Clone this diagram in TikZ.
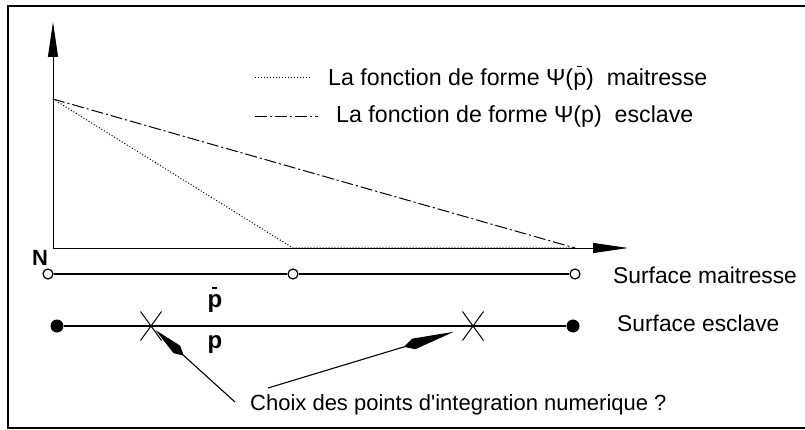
\documentclass[tikz,border=0pt]{standalone}
\usepackage{fontspec}
\setmainfont{Liberation Sans}
\usepackage{tikz}
\usetikzlibrary{arrows.meta,positioning,shapes.misc,calc}

\newcommand{\pbar}{\hbox{\rlap{\kern0.17em\raisebox{0.78em}{\rule{0.22em}{0.07em}}}p}}

\begin{document}
\begin{tikzpicture}[
    x=1pt, y=-1pt,
    label/.style={font=\fontsize{22}{26}\selectfont, inner sep=0pt},
    legend/.style={font=\fontsize{23.2}{28}\selectfont, inner sep=0pt, anchor=west},
    surf/.style={font=\fontsize{22.8}{27}\selectfont, inner sep=0pt, anchor=west},
    axis/.style={line width=0.9pt, -{Triangle[length=35pt,width=10pt]}},
    master/.style={dotted, line width=1pt},
    slave/.style={line width=1pt, dash pattern=on 12pt off 3pt on 2pt off 3pt},
    opennode/.style={circle, draw, fill=white, line width=1.2pt, minimum size=10pt, inner sep=0pt},
    fullnode/.style={circle, fill, minimum size=13pt, inner sep=0pt},
    gauss/.style={cross out, draw, line width=1pt, minimum width=20pt, minimum height=28pt, inner sep=0pt},
    pointer/.style={line width=1.1pt, -{Kite[length=38pt,width=10pt,inset=9pt]}}
]
    \useasboundingbox (0,0) rectangle (805,430);
    \draw[line width=1.2pt] (805,6) -- (8,6) -- (8,428) -- (283,428);
    \draw[line width=1.2pt] (283,428) -- (805,428);

    % axes
    \coordinate (O) at (53,248);
    \coordinate (ytip) at (53,22);
    \coordinate (xtip) at (628,248);
    \draw[axis] (O) -- (ytip);
    \draw[axis] (O) -- (xtip);
    \node[label, font=\fontsize{22}{26}\selectfont\bfseries] (N) at (40,258) {N};

    % shape functions
    \coordinate (top) at (53,99);
    \coordinate (knee) at (293,248);
    \coordinate (far) at (575,248);
    \draw[master] (top) -- (knee) -- (far);
    \draw[slave] (top) -- (far);

    % legend
    \coordinate (l1a) at (255,78);
    \coordinate (l1b) at (310,78);
    \coordinate (l2a) at (255,117);
    \coordinate (l2b) at (318,117);
    \draw[master] (l1a) -- (l1b);
    \draw[slave] (l2a) -- (l2b);
    \node[legend] (leg1) at (328,78) {La fonction de forme Ψ(\pbar)\ \ maitresse};
    \node[legend] (leg2) at (336,117) {La fonction de forme Ψ(p)\ \ esclave};

    % master surface
    \node[opennode] (m1) at (48,274) {};
    \node[opennode] (m2) at (293,274) {};
    \node[opennode] (m3) at (575,274) {};
    \draw[line width=1.8pt] (m1) -- (m2) -- (m3);
    \node[surf] (msurf) at (613,275) {Surface maitresse};
    \node[label, font=\fontsize{24}{28}\selectfont\bfseries] (pm) at (215,300) {\pbar};

    % slave surface
    \node[fullnode] (s1) at (57,326) {};
    \node[fullnode] (s2) at (573,326) {};
    \node[gauss] (g1) at (151,326) {};
    \node[gauss] (g2) at (473,326) {};
    \draw[line width=1.4pt] (s1) -- (g1.center) -- (g2.center) -- (s2);
    \node[surf] (ssurf) at (617,323) {Surface esclave};
    \node[label, font=\fontsize{24}{28}\selectfont\bfseries] (ps) at (215,345) {p};

    % integration points
    \node[label, anchor=west] (choix) at (250,405) {Choix des points d\textquotesingle integration numerique ?};
    \coordinate (c1) at (235,402);
    \coordinate (c2) at (268,388);
    \draw[pointer, shorten >=6pt] (c1) -- (g1.center);
    \draw[pointer, shorten >=20pt, -{Kite[length=52pt,width=11pt,inset=10pt]}] (c2) -- (g2.center);
\end{tikzpicture}
\end{document}
